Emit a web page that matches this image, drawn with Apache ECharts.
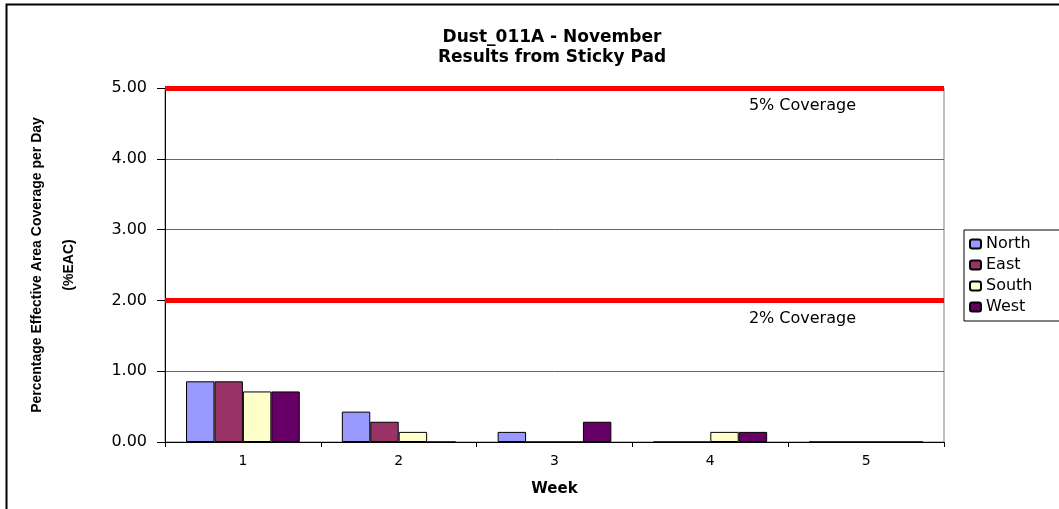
<!DOCTYPE html>
<html>
<head>
<meta charset="utf-8">
<script src="https://cdn.jsdelivr.net/npm/echarts@6/dist/echarts.min.js"></script>
<style>
  html, body { margin: 0; padding: 0; background: #fff; }
  #main { width: 1059px; height: 509px; }
</style>
</head>
<body>
<div id="main"></div>
<script>
// weeks on the x axis
var weeks = ['1', '2', '3', '4', '5'];
// %EAC per day
var north = [0.857, 0.429, 0.143, 0, 0];
var east = [0.857, 0.286, 0, 0, 0];
var south = [0.714, 0.143, 0, 0.143, 0];
var west = [0.714, 0, 0.286, 0.143, 0];
// threshold lines
var limits = [
  { value: 5, label: '5% Coverage' },
  { value: 2, label: '2% Coverage' }
];

var wide = '"DejaVu Sans", Verdana, sans-serif';
var narrow = '"Liberation Sans Narrow", Arial, sans-serif';

function barSeries(name, data, color, withLines) {
  var s = {
    name: name,
    type: 'bar',
    data: data,
    barGap: '0%',
    barCategoryGap: '27%',
    itemStyle: { color: color, borderColor: '#000', borderWidth: 1 }
  };
  if (withLines) {
    s.markLine = {
      silent: true,
      symbol: 'none',
      lineStyle: { color: '#ff0000', width: 5, type: 'solid' },
      label: {
        position: 'insideEndBottom',
        distance: [88, 10],
        color: '#000',
        fontFamily: wide,
        fontSize: 16
      },
      data: limits.map(function (l) {
        return { yAxis: l.value, label: { formatter: l.label } };
      })
    };
  }
  return s;
}

var myChart = echarts.init(document.getElementById('main'));
var option = {
  animation: false,
  title: {
    text: 'Dust_011A - November\nResults from Sticky Pad',
    left: 547,
    top: 23,
    textAlign: 'center',
    textStyle: { fontFamily: wide, fontSize: 17, fontWeight: 'bold', lineHeight: 20, color: '#000' }
  },
  legend: {
    orient: 'vertical',
    left: 964,
    top: 230,
    padding: [6, 40, 6, 5],
    itemGap: 5,
    itemWidth: 11,
    itemHeight: 9,
    borderColor: '#000',
    borderWidth: 1,
    textStyle: { fontFamily: wide, fontSize: 16, color: '#000' },
    data: ['North', 'East', 'South', 'West']
  },
  grid: {
    left: 165, right: 115, top: 88, bottom: 67,
    show: true, borderColor: '#808080', borderWidth: 1
  },
  xAxis: {
    type: 'category',
    data: weeks,
    name: 'Week',
    nameLocation: 'middle',
    nameGap: 40,
    nameTextStyle: { fontFamily: wide, fontSize: 15, fontWeight: 'bold', color: '#000' },
    axisLine: { lineStyle: { color: '#000', width: 1 } },
    axisTick: { show: true, alignWithLabel: false, length: 5, lineStyle: { color: '#000' } },
    axisLabel: { fontFamily: wide, fontSize: 14, color: '#000', margin: 12 }
  },
  yAxis: {
    type: 'value',
    min: 0,
    max: 5,
    interval: 1,
    name: 'Percentage Effective Area Coverage per Day\n(%EAC)',
    nameLocation: 'middle',
    nameRotate: 90,
    nameGap: 80,
    nameTextStyle: { fontFamily: narrow, fontSize: 14, fontWeight: 'bold', lineHeight: 32, color: '#000' },
    axisLine: { show: true, lineStyle: { color: '#000', width: 1 } },
    axisTick: { show: true, length: 8, lineStyle: { color: '#000' } },
    axisLabel: {
      fontFamily: wide, fontSize: 16, color: '#000', margin: 18,
      formatter: function (v) { return v.toFixed(2); }
    },
    splitLine: { lineStyle: { color: '#666', width: 1 } }
  },
  graphic: [{
    type: 'rect',
    shape: { x: 6.5, y: 4.5, width: 1200, height: 600 },
    style: { fill: 'none', stroke: '#000', lineWidth: 2 },
    silent: true
  }],
  series: [
    barSeries('North', north, '#9999ff', true),
    barSeries('East', east, '#993366', false),
    barSeries('South', south, '#ffffcc', false),
    barSeries('West', west, '#660066', false)
  ]
};
myChart.setOption(option);
</script>
</body>
</html>
